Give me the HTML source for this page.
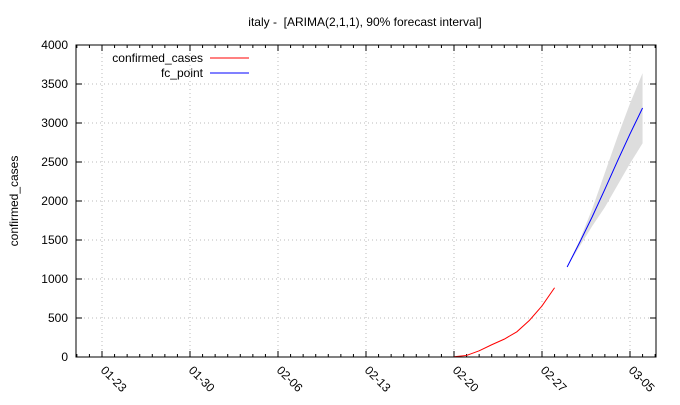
<!DOCTYPE html>
<html><head><meta charset="utf-8"><style>
body{margin:0;background:#fff}
svg text{font-family:"Liberation Sans",sans-serif;font-size:12px;fill:#000}
</style></head><body>
<svg width="680" height="400" xmlns="http://www.w3.org/2000/svg">
<text x="365" y="26" text-anchor="middle" style="white-space:pre">italy -  [ARIMA(2,1,1), 90% forecast interval]</text>
<text transform="translate(18,201) rotate(-90)" text-anchor="middle">confirmed_cases</text>
<g id="grid"></g><g id="ticks"></g><g id="marks"></g>
<rect x="76" y="45" width="580" height="312" fill="none" stroke="#000" stroke-width="1"/>
<g>
<text x="203" y="62" text-anchor="end">confirmed_cases</text>
<line x1="210" y1="58" x2="249" y2="58" stroke="#f00"/>
<text x="203" y="77" text-anchor="end">fc_point</text>
<line x1="210" y1="73" x2="249" y2="73" stroke="#00f"/>
</g>
</svg>
<script>
const xTickLabels=["01-23","01-30","02-06","02-13","02-20","02-27","03-05"];
const yTicks=[0,500,1000,1500,2000,2500,3000,3500,4000];
const actualDays=[28,29,30,31,32,33,34,35,36];
const actualValues=[3,20,79,157,229,323,470,655,888];
const fcDays=[37,38,39,40,41,42,43];
const fcPoint=[1154,1470,1800,2150,2510,2860,3192];
const fcUpper=[1154,1500,1900,2360,2820,3250,3640];
const fcLower=[1154,1420,1680,1920,2200,2480,2740];
const L=76,R=656,T=45,B=357;
const X=d=>102+d*88/7, Y=v=>B-(v/4000)*(B-T);
const NS="http://www.w3.org/2000/svg";
function mk(t,a,p){const e=document.createElementNS(NS,t);for(const k in a)e.setAttribute(k,a[k]);p.appendChild(e);return e;}
const grid=document.getElementById('grid'),ticks=document.getElementById('ticks'),marks=document.getElementById('marks');
yTicks.forEach(v=>{const y=Y(v);
 if(v>0&&v<4000){const g=mk('line',{x1:L,x2:R,y1:y,y2:y,stroke:'#bbb','stroke-dasharray':'1,3'},grid);}
 mk('line',{x1:L,x2:L+6,y1:y,y2:y,stroke:'#000'},ticks);mk('line',{x1:R,x2:R-6,y1:y,y2:y,stroke:'#000'},ticks);
 const t=mk('text',{x:L-8,y:y+4,'text-anchor':'end'},ticks);t.textContent=v;
 });
for(let d=-2;d<=44;d++){const x=X(d);if(x<L||x>R)continue;const mj=d%7===0;const s=mj?6:3;
 mk('line',{x1:x,x2:x,y1:B,y2:B-s,stroke:'#000'},ticks);mk('line',{x1:x,x2:x,y1:T,y2:T+s,stroke:'#000'},ticks);}
xTickLabels.forEach((lab,i)=>{const x=X(i*7);
 const g=mk('line',{x1:x,x2:x,y1:T,y2:B,stroke:'#bbb','stroke-dasharray':'1,3'},grid);
 const t=mk('text',{transform:`translate(${x-2},${B+14}) rotate(45)`},ticks);t.textContent=lab;
 });
const band=fcDays.map((d,i)=>X(d)+','+Y(fcUpper[i])).concat(fcDays.map((d,i)=>X(d)+','+Y(fcLower[i])).reverse()).join(' ');
const b=mk('polygon',{points:band,fill:'#ddd',stroke:'none'},marks);

const a=mk('polyline',{points:actualDays.map((d,i)=>X(d)+','+Y(actualValues[i])).join(' '),fill:'none',stroke:'#f00'},marks);

const f=mk('polyline',{points:fcDays.map((d,i)=>X(d)+','+Y(fcPoint[i])).join(' '),fill:'none',stroke:'#00f'},marks);

</script>
</body></html>
